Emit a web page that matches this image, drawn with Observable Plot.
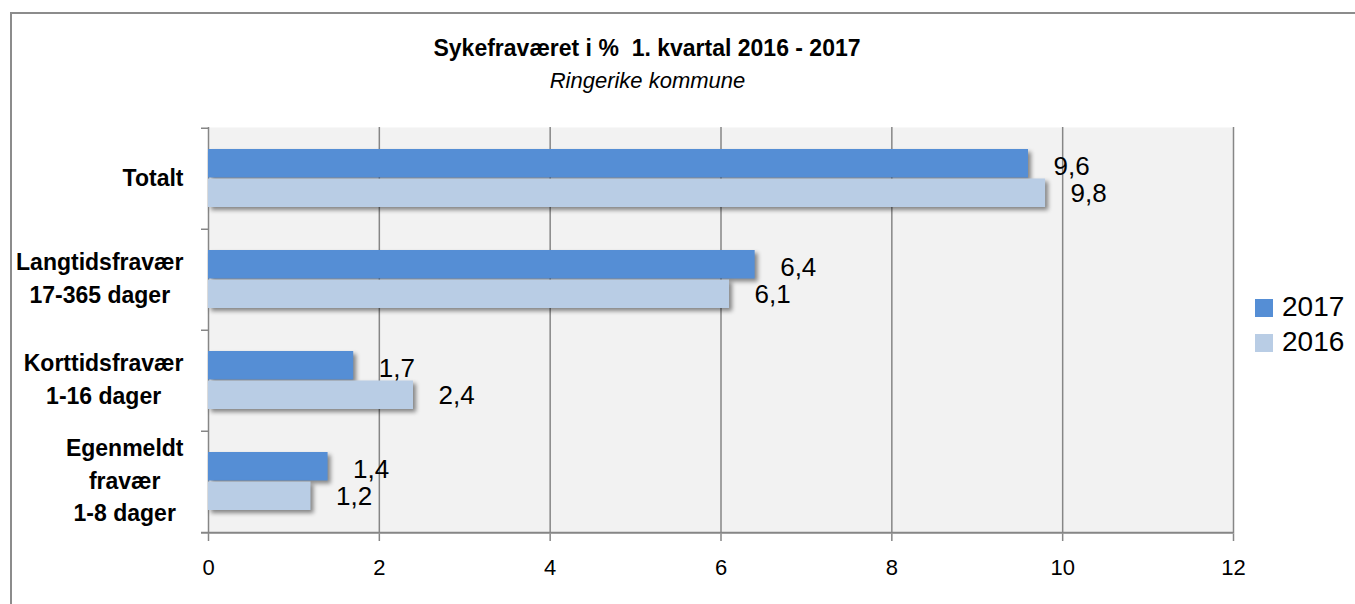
<!DOCTYPE html>
<html>
<head>
<meta charset="utf-8">
<script src="https://cdn.jsdelivr.net/npm/d3@7"></script>
<script src="https://cdn.jsdelivr.net/npm/@observablehq/plot@0.6"></script>
<style>
  html, body { margin: 0; padding: 0; background: #fff; }
  #wrap { position: relative; width: 1355px; height: 604px; overflow: hidden; font-family: "Liberation Sans", Arial, sans-serif; color: #000; }
  #border { position: absolute; left: 10px; top: 12px; width: 1500px; height: 800px; border-left: 2px solid #8c8c8c; border-top: 2px solid #8c8c8c; box-sizing: border-box; }
  #title { position: absolute; left: 0; width: 1294px; top: 37px; text-align: center; font-weight: bold; font-size: 23px; line-height: 23px; white-space: pre; }
  #subtitle { position: absolute; left: 0; width: 1295px; top: 70px; text-align: center; font-style: italic; font-size: 22px; line-height: 22px; }
  #chart { position: absolute; left: 0; top: 110px; }
  .item { position: absolute; left: 1255px; height: 28px; font-size: 28px; line-height: 28px; white-space: nowrap; }
  .sw { position: absolute; left: 0; top: 6px; width: 18px; height: 18px; }
  .lt { position: absolute; left: 27px; top: 0; }
  g[aria-label^="x-axis"] line, g[aria-label^="x-axis"] path { stroke: #868686; stroke-width: 1.5px; stroke-opacity: 1; }
  g[aria-label^="x-axis"] text { fill: #000; }
</style>
</head>
<body>
<div id="wrap">
  <div id="border"></div>
  <div id="title"></div>
  <div id="subtitle"></div>
  <div id="chart"></div>
  <div id="legend"></div>
</div>
<script>
// ---- data ----
const titleText = "Sykefraværet i %  1. kvartal 2016 - 2017";
const subtitleText = "Ringerike kommune";
const categories = [
  "Totalt",
  "Langtidsfravær\n17-365 dager",
  "Korttidsfravær\n1-16 dager",
  "Egenmeldt\nfravær\n1-8 dager"
];
const years = ["2017", "2016"];
const values2017 = [9.6, 6.4, 1.7, 1.4];
const values2016 = [9.8, 6.1, 2.4, 1.2];
const xTicks = [0, 2, 4, 6, 8, 10, 12];
const colors = ["#558ED5", "#B9CDE5"];

document.getElementById("title").textContent = titleText;
document.getElementById("subtitle").textContent = subtitleText;

const rows2017 = categories.map((c, i) => ({cat: c, year: years[0], value: values2017[i]}));
const rows2016 = categories.map((c, i) => ({cat: c, year: years[1], value: values2016[i]}));
const fmt = v => v.toFixed(1).replace(".", ",");

const W = 1355, H = 494, mt = 17, mb = 71, ml = 208, mr = 122;
const bw = (H - mt - mb) / categories.length;
const grid = "#868686";

const plot = Plot.plot({
  width: W, height: H,
  marginTop: mt, marginBottom: mb, marginLeft: ml, marginRight: mr,
  style: {fontFamily: "'Liberation Sans', Arial, sans-serif", fontSize: "22px", color: "#000", background: "transparent", overflow: "visible"},
  x: {domain: [0, 12], ticks: xTicks, tickSize: 8, tickPadding: 18, tickFormat: d => String(d), label: null},
  y: {domain: categories, padding: 0, axis: null},
  color: {domain: years, range: colors},
  marks: [
    Plot.frame({fill: "#F2F2F2", stroke: null}),
    Plot.ruleX(xTicks, {stroke: grid, strokeWidth: 1.5}),
    Plot.ruleY(categories, {y: d => d, x1: () => 0, x2: () => 0, insetLeft: -7, dy: -bw / 2, stroke: grid, strokeWidth: 1.5}),
    Plot.ruleY([categories[categories.length - 1]], {y: d => d, x1: () => 0, x2: () => 12, insetLeft: -7, dy: bw / 2, stroke: grid, strokeWidth: 2}),
    Plot.barX(rows2017, {x: "value", y: "cat", fill: "year", insetTop: 21, insetBottom: 51.5}),
    Plot.barX(rows2016, {x: "value", y: "cat", fill: "year", insetTop: 50.5, insetBottom: 22}),
    Plot.text(rows2017, {x: "value", y: "cat", text: d => fmt(d.value), dx: 25, dy: -12.5, textAnchor: "start", fontSize: 26}),
    Plot.text(rows2016, {x: "value", y: "cat", text: d => fmt(d.value), dx: 25, dy: 14.5, textAnchor: "start", fontSize: 26}),
    Plot.text(categories, {x: () => 0, y: d => d, text: d => d, textAnchor: "end", dx: -25, dy: -4, fontWeight: "bold", fontSize: 23, lineHeight: 1.43})
  ]
});
document.getElementById("chart").appendChild(plot);

// drop shadow on bars
plot.querySelectorAll('g[aria-label="bar"]').forEach(g => {
  g.style.filter = "drop-shadow(3px 3px 2px rgba(0,0,0,0.45))";
});
// center multi-line category labels within their block (right edge aligned)
const textGroups = plot.querySelectorAll('g[aria-label="text"]');
const catGroup = textGroups[textGroups.length - 1];
catGroup.querySelectorAll("text").forEach(t => {
  const spans = t.querySelectorAll("tspan");
  if (spans.length > 1) {
    let maxW = 0;
    spans.forEach(s => { maxW = Math.max(maxW, s.getComputedTextLength()); });
    t.setAttribute("text-anchor", "middle");
    spans.forEach(s => s.setAttribute("x", -maxW / 2));
  }
});
catGroup.setAttribute("text-anchor", "middle");
catGroup.querySelectorAll("text").forEach(t => {
  if (t.querySelectorAll("tspan").length <= 1) t.setAttribute("text-anchor", "end");
});

// legend
const legend = document.getElementById("legend");
years.forEach((y, i) => {
  const item = document.createElement("div");
  item.className = "item";
  item.style.top = (293 + i * 35) + "px";
  const sw = document.createElement("span");
  sw.className = "sw";
  sw.style.background = colors[i];
  const lt = document.createElement("span");
  lt.className = "lt";
  lt.textContent = y;
  item.appendChild(sw);
  item.appendChild(lt);
  legend.appendChild(item);
});
</script>
</body>
</html>
